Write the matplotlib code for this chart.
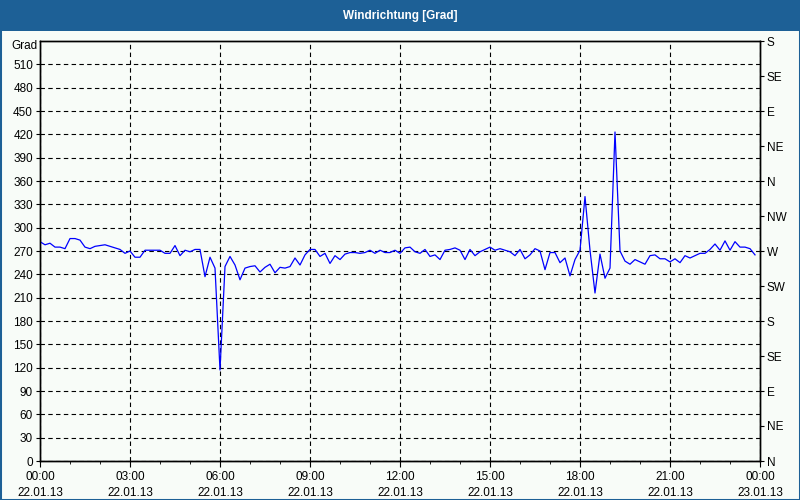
import numpy as np
import pandas as pd
import matplotlib
matplotlib.use("Agg")
import matplotlib.pyplot as plt
import matplotlib.dates as mdates
from matplotlib.patches import Rectangle

# ---- data (10-minute wind direction readings, 22.01.13) ----
start_time = "2013-01-22 00:00"
end_time = "2013-01-23 00:00"
dir_00_04 = [282, 278, 280, 275, 275, 273, 286, 286, 284, 275, 273, 276,
             277, 278, 276, 274, 272, 267, 270, 262, 262, 271, 271, 271]
dir_04_08 = [271, 267, 267, 277, 264, 271, 269, 272, 272, 237, 262, 248,
             117, 250, 263, 252, 233, 248, 250, 251, 243, 249, 253, 242]
dir_08_12 = [249, 248, 250, 261, 252, 265, 272, 272, 263, 267, 254, 264,
             259, 266, 268, 268, 267, 268, 271, 267, 271, 268, 268, 271]
dir_12_16 = [267, 274, 275, 269, 267, 272, 263, 265, 259, 271, 272, 274,
             271, 259, 272, 264, 269, 272, 275, 271, 273, 271, 269, 264]
dir_16_20 = [272, 260, 265, 273, 270, 246, 268, 268, 255, 261, 238, 259,
             271, 340, 271, 216, 266, 235, 248, 423, 270, 257, 253, 259]
dir_20_24 = [256, 253, 264, 265, 260, 260, 256, 260, 255, 264, 261, 264,
             267, 267, 272, 279, 271, 283, 271, 282, 275, 275, 273, 265]

left_ticks = list(range(0, 511, 30))
right_ticks = list(range(0, 541, 45))
right_labels = ["N", "NE", "E", "SE", "S", "SW", "W", "NW", "N", "NE", "E", "SE", "S"]
title = "Windrichtung [Grad]"
unit = "Grad"

values = dir_00_04 + dir_04_08 + dir_08_12 + dir_12_16 + dir_16_20 + dir_20_24
times = pd.date_range(start_time, periods=len(values), freq="10min")

# ---- styling ----
BG = "#f8fcf8"
BAR = "#1d6096"
plt.rcParams["font.family"] = ["Liberation Sans", "DejaVu Sans"]
plt.rcParams["font.size"] = 8.5

W, H = 800, 500
fig = plt.figure(figsize=(8, 5), dpi=100, facecolor=BG)
ax = fig.add_axes([40 / W, 39 / H, 720 / W, 420 / H], facecolor=BG)

# title bar and frame
fig.patches.append(Rectangle((0, 1 - 31 / H), 1, 31 / H, transform=fig.transFigure,
                             facecolor=BAR, edgecolor="none", zorder=0))
fig.patches.append(Rectangle((0, 0), 1, 1, transform=fig.transFigure, fill=False,
                             edgecolor=BAR, linewidth=2.2, zorder=5))
fig.text(0.5, 1 - 15.5 / H, title, color="white", ha="center", va="center",
         fontsize=8.5, fontweight="bold")

ax.plot(times, values, color="#0000ff", linewidth=0.9, zorder=3)

ax.set_xlim(pd.Timestamp(start_time), pd.Timestamp(end_time))
ax.set_ylim(0, 540)

ax.xaxis.set_major_locator(mdates.HourLocator(byhour=range(0, 24, 3)))
ax.xaxis.set_minor_locator(mdates.HourLocator())
ax.xaxis.set_major_formatter(mdates.DateFormatter("%H:%M\n%d.%m.%y"))

ax.set_yticks(left_ticks)
ax.tick_params(axis="y", which="major", length=3, pad=2, colors="black", labelsize=8.5)
ax.tick_params(axis="x", which="major", length=4, pad=3, labelsize=8.5)
ax.tick_params(axis="x", which="minor", length=2.5)

ax.grid(True, which="major", color="black", linestyle=(0, (4, 3)), linewidth=0.8)

ax2 = ax.twinx()
ax2.set_ylim(0, 540)
ax2.set_yticks(right_ticks)
ax2.set_yticklabels(right_labels)
ax2.tick_params(axis="y", length=3, pad=2, labelsize=8.5)

for a in (ax, ax2):
    for s in a.spines.values():
        s.set_color("black")
        s.set_linewidth(1.0)

ax.text(-3 / 720, 1 - 5 / 420, unit, transform=ax.transAxes, ha="right", va="center",
        fontsize=8.5)

fig.canvas.draw()
for lbl in ax.get_xticklabels():
    lbl.set_linespacing(1.45)

fig.savefig("out.png", dpi=100, facecolor=BG)
